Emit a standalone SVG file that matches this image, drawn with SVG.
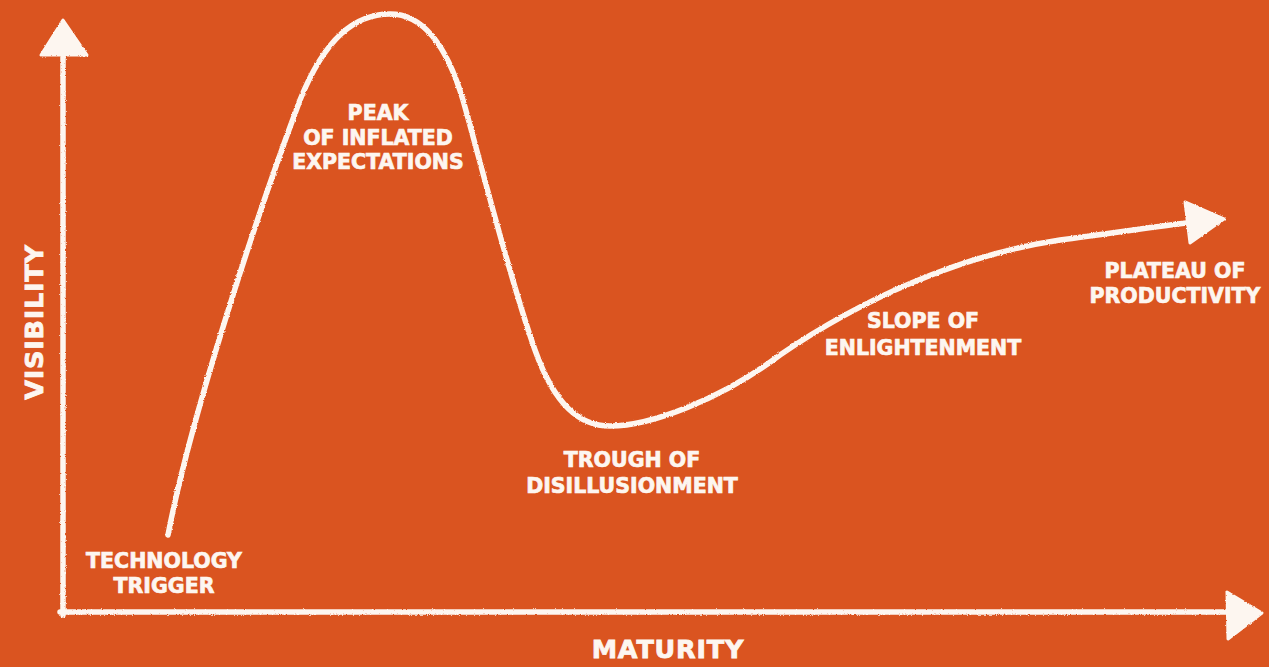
<svg xmlns="http://www.w3.org/2000/svg" width="1269" height="667" viewBox="0 0 1269 667">
  <defs>
    <filter id="chalk" x="-5%" y="-5%" width="110%" height="110%">
      <feTurbulence type="fractalNoise" baseFrequency="0.9" numOctaves="2" seed="3" result="n"/>
      <feDisplacementMap in="SourceGraphic" in2="n" scale="2.5" xChannelSelector="R" yChannelSelector="G"/>
    </filter>
  </defs>
  <style>
    .line { fill: none; stroke: #fdf6f0; stroke-width: 5.5; stroke-linecap: round; stroke-linejoin: round; }
    .head { fill: #fdf6f0; stroke: #fdf6f0; stroke-width: 3; stroke-linejoin: round; }
    .lbl { font-family: "DejaVu Sans", "Open Sans", "Liberation Sans", sans-serif; font-weight: bold; font-size: 20.5px; fill: #fdf6f0; stroke: #fdf6f0; stroke-width: 0.7px; text-anchor: middle; }
    .axis { font-family: "DejaVu Sans", "Open Sans", "Liberation Sans", sans-serif; font-weight: bold; font-size: 25.5px; fill: #fdf6f0; stroke: #fdf6f0; stroke-width: 0.8px; text-anchor: middle; letter-spacing: 0.8px; }
  </style>
  <rect width="1269" height="667" fill="#DA5420"/>
  <g id="connectors" filter="url(#chalk)">
    <path class="line" d="M63,615 L63,50"/>
    <polygon class="head" points="63,20 41,55 87,55"/>
    <path class="line" d="M60,612 L1232,612"/>
    <polygon class="head" points="1262,613 1227,592 1228,639"/>
    <path class="line" d="M168,535 C190,420 255,220 300,100 C325,38 355,14 390,14 C425,14 448,50 463,100 C480,160 510,280 535,350 C555,406 580,426 610,426 C650,426 720,400 780,355 C860,300 960,255 1060,240 C1120,232 1160,226 1195,222"/>
    <polygon class="head" points="1185,202 1224,219 1190,243"/>
  </g>
  <g id="axis-visibility">
    <text class="axis" transform="translate(43,322) rotate(-90)">VISIBILITY</text>
  </g>
  <g id="axis-maturity">
    <text class="axis" x="668" y="658">MATURITY</text>
  </g>
  <g id="technology-trigger">
    <text class="lbl" x="164" y="568">TECHNOLOGY</text>
    <text class="lbl" x="164" y="593">TRIGGER</text>
  </g>
  <g id="peak">
    <text class="lbl" x="378" y="120">PEAK</text>
    <text class="lbl" x="378" y="144.5">OF INFLATED</text>
    <text class="lbl" x="378" y="169">EXPECTATIONS</text>
  </g>
  <g id="trough">
    <text class="lbl" x="632" y="467">TROUGH OF</text>
    <text class="lbl" x="632" y="493">DISILLUSIONMENT</text>
  </g>
  <g id="slope">
    <text class="lbl" x="923" y="328">SLOPE OF</text>
    <text class="lbl" x="923" y="355">ENLIGHTENMENT</text>
  </g>
  <g id="plateau">
    <text class="lbl" x="1175" y="278">PLATEAU OF</text>
    <text class="lbl" x="1175" y="303">PRODUCTIVITY</text>
  </g>
</svg>
